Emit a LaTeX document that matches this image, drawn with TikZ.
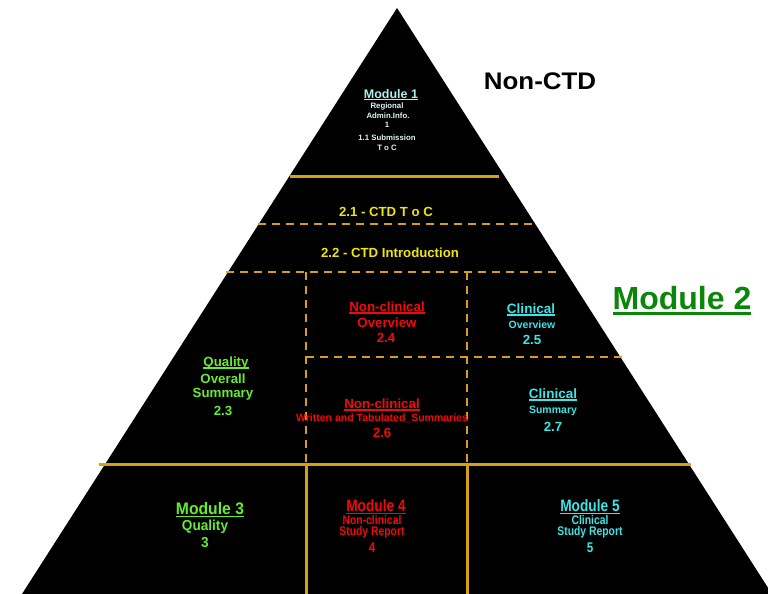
\documentclass[tikz,border=0pt]{standalone}
\usepackage{fontspec}
\setmainfont{Liberation Sans}
\newfontfamily\narrowf{Liberation Sans}[FakeStretch=0.83]
\newfontfamily\semif{Liberation Sans}[FakeStretch=0.94]
\newfontfamily\widef{Liberation Sans}[FakeStretch=1.08]
\definecolor{gold}{RGB}{214,160,20}
\definecolor{m1col}{RGB}{175,238,238}
\definecolor{paletxt}{RGB}{222,245,245}
\definecolor{yellowc}{RGB}{240,230,10}
\definecolor{redc}{RGB}{240,10,10}
\definecolor{greenl}{RGB}{102,235,51}
\definecolor{greend}{RGB}{10,135,10}
\definecolor{cyanc}{RGB}{60,230,230}
\newsavebox\ulbox
\newcommand{\ulx}[1]{\sbox\ulbox{#1}\rlap{\rule[-0.19em]{\wd\ulbox}{0.09em}}\usebox\ulbox}
\newcommand{\fs}[1]{\fontsize{#1}{#1}\selectfont}
\tikzset{
  txt/.style={inner sep=0pt, anchor=base, font=\bfseries},
  goldsolid/.style={draw=gold, line width=3pt},
  golddash/.style={draw=gold, line width=2pt, dash pattern=on 8pt off 6pt},
}
\begin{document}
\begin{tikzpicture}[x=1pt,y=-1pt]
\useasboundingbox (0,0) rectangle (768,594);
% pyramid
\coordinate (apex) at (397,8);
\coordinate (bl) at (22,594);
\coordinate (br) at (772,594);
\fill[black] (apex) -- (bl) -- (br) -- cycle;
% separators
\coordinate (s1a) at (290,176); \coordinate (s1b) at (499,176);
\coordinate (d1a) at (258,224); \coordinate (d1b) at (532,224);
\coordinate (d2a) at (226,272); \coordinate (d2b) at (561,272);
\coordinate (d3a) at (306,357); \coordinate (d3b) at (622,357);
\coordinate (v1t) at (306,272); \coordinate (v1m) at (306,464); \coordinate (v1b) at (306,594);
\coordinate (v2t) at (467,272); \coordinate (v2m) at (467,464); \coordinate (v2b) at (467,594);
\coordinate (s2a) at (99,464); \coordinate (s2b) at (691,464);
\draw[goldsolid] (s1a) -- (s1b);
\draw[golddash] (d1a) -- (d1b);
\draw[golddash] (d2a) -- (d2b);
\draw[golddash] (d3a) -- (d3b);
\draw[golddash] (v1t) -- (v1m);
\draw[golddash] (v2t) -- (v2m);
\draw[goldsolid] (s2a) -- (s2b);
\draw[goldsolid] (v1m) -- (v1b);
\draw[goldsolid] (v2m) -- (v2b);
% Module 1
\node[txt, text=m1col, font=\bfseries\fs{12.5}] (m1) at (391,98) {\ulx{Module 1}};
\node[txt, text=paletxt, font=\bfseries\fs{7.8}] (m1a) at (387,108.5) {Regional};
\node[txt, text=paletxt, font=\bfseries\fs{7.8}] (m1b) at (388,118) {Admin.Info.};
\node[txt, text=paletxt, font=\bfseries\fs{7.8}] (m1c) at (387,127.5) {1};
\node[txt, text=paletxt, font=\bfseries\fs{7.8}] (m1d) at (387,140) {1.1 Submission};
\node[txt, text=paletxt, font=\bfseries\fs{7.8}] (m1e) at (387,150) {T o C};
% Non-CTD
\node[txt, text=black, font=\widef\bfseries\fs{24}] (nonctd) at (540,89) {Non-CTD};
% 2.1 2.2
\node[txt, text=yellowc, font=\bfseries\fs{13.2}] (t21) at (386,216) {2.1 - CTD T o C};
\node[txt, text=yellowc, font=\bfseries\fs{13.2}] (t22) at (390,257) {2.2 - CTD Introduction};
% Module 2
\node[txt, text=greend, font=\bfseries\fs{32}] (m2) at (682,309) {\ulx{Module 2}};
% 2.4
\node[txt, text=redc, font=\bfseries\fs{13.3}] (t24a) at (387,311) {\ulx{Non-clinical}};
\node[txt, text=redc, font=\bfseries\fs{13.3}] (t24b) at (387,327) {Overview};
\node[txt, text=redc, font=\bfseries\fs{13.3}] (t24c) at (386,342) {2.4};
% 2.5
\node[txt, text=cyanc, font=\bfseries\fs{13.5}] (t25a) at (531,313) {\ulx{Clinical}};
\node[txt, text=cyanc, font=\bfseries\fs{10.5}] (t25b) at (532,328) {Overview};
\node[txt, text=cyanc, font=\bfseries\fs{13.3}] (t25c) at (532,344) {2.5};
% 2.3
\node[txt, text=greenl, font=\bfseries\fs{13.3}] (t23a) at (226,366) {\ulx{Quality}};
\node[txt, text=greenl, font=\bfseries\fs{13.3}] (t23b) at (223,383) {Overall};
\node[txt, text=greenl, font=\bfseries\fs{13.3}] (t23c) at (223,397) {Summary};
\node[txt, text=greenl, font=\bfseries\fs{13.3}] (t23d) at (223,415) {2.3};
% 2.6
\node[txt, text=redc, font=\bfseries\fs{13.3}] (t26a) at (382,408) {\ulx{Non-clinical}};
\node[txt, text=redc, font=\bfseries\fs{10.5}] (t26b) at (382,421) {Written and Tabulated\_Summaries};
\node[txt, text=redc, font=\bfseries\fs{13.3}] (t26c) at (382,437) {2.6};
% 2.7
\node[txt, text=cyanc, font=\bfseries\fs{13.5}] (t27a) at (553,398) {\ulx{Clinical}};
\node[txt, text=cyanc, font=\bfseries\fs{10.5}] (t27b) at (553,413) {Summary};
\node[txt, text=cyanc, font=\bfseries\fs{13.3}] (t27c) at (553,431) {2.7};
% Module 3
\node[txt, text=greenl, font=\semif\bfseries\fs{16.7}] (m3a) at (210,514) {\ulx{Module 3}};
\node[txt, text=greenl, font=\semif\bfseries\fs{14.5}] (m3b) at (205,530) {Quality};
\node[txt, text=greenl, font=\semif\bfseries\fs{14.5}] (m3c) at (205,547) {3};
% Module 4
\node[txt, text=redc, font=\narrowf\bfseries\fs{16.5}] (m4a) at (376,511) {\ulx{Module 4}};
\node[txt, text=redc, font=\narrowf\bfseries\fs{12.5}] (m4b) at (372,524) {Non-clinical};
\node[txt, text=redc, font=\narrowf\bfseries\fs{12.5}] (m4c) at (372,535.5) {Study Report};
\node[txt, text=redc, font=\narrowf\bfseries\fs{14}] (m4d) at (372,552) {4};
% Module 5
\node[txt, text=cyanc, font=\narrowf\bfseries\fs{16.5}] (m5a) at (590,511) {\ulx{Module 5}};
\node[txt, text=cyanc, font=\narrowf\bfseries\fs{12.5}] (m5b) at (590,524) {Clinical};
\node[txt, text=cyanc, font=\narrowf\bfseries\fs{12.5}] (m5c) at (590,535.5) {Study Report};
\node[txt, text=cyanc, font=\narrowf\bfseries\fs{14}] (m5d) at (590,552) {5};
\end{tikzpicture}
\end{document}
